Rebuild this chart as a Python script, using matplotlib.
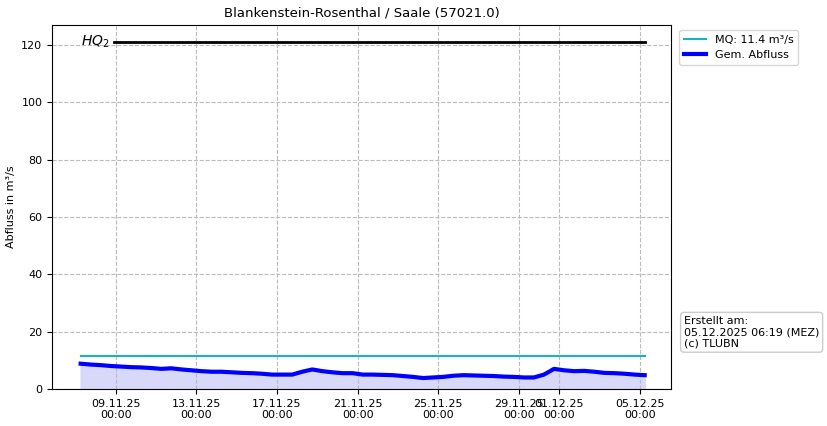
import matplotlib
matplotlib.use("Agg")
import matplotlib.pyplot as plt
import matplotlib.dates as mdates
import numpy as np
import pandas as pd

title = "Blankenstein-Rosenthal / Saale (57021.0)"
start = "2025-11-07 06:00"
flow = [8.8, 8.5, 8.3, 8.0, 7.8, 7.6, 7.5, 7.3, 7.0, 7.2, 6.8, 6.5, 6.2, 6.0,
        6.0, 5.8, 5.6, 5.5, 5.3, 5.0, 5.0, 5.0, 6.0, 6.8, 6.2, 5.8, 5.5, 5.5,
        5.0, 5.0, 4.9, 4.8, 4.5, 4.2, 3.8, 4.0, 4.2, 4.6, 4.8, 4.7, 4.6, 4.5,
        4.3, 4.2, 4.0, 4.0, 5.0, 7.0, 6.5, 6.2, 6.3, 6.0, 5.6, 5.5, 5.3, 5.0, 4.8]
mq = 11.4
hq2 = 121.0
hq2_start = "2025-11-08 22:00"
tick_dates = ["2025-11-09", "2025-11-13", "2025-11-17", "2025-11-21",
              "2025-11-25", "2025-11-29", "2025-12-01", "2025-12-05"]

times = pd.date_range(start, periods=len(flow), freq="12h")

fig = plt.figure(figsize=(8.27, 4.26), dpi=100)
ax = fig.add_axes([0.063, 0.087, 0.748, 0.855])
ax.fill_between(times, flow, color="#d8d8f8", zorder=1)
ax.plot(times, flow, color="blue", lw=3, label="Gem. Abfluss", zorder=3)
ax.plot([times[0], times[-1]], [mq, mq], color="#1ab3c0", lw=1.5, label=f"MQ: {mq} m³/s", zorder=2)
ax.plot([pd.Timestamp(hq2_start), times[-1]], [hq2, hq2], color="black", lw=2, zorder=2)
ax.text(times[0], hq2, r"$HQ_2$", fontsize=10, va="center", ha="left")

ax.set_xlim(pd.Timestamp("2025-11-05 20:00"), pd.Timestamp("2025-12-06 13:00"))
ax.set_ylim(0, 127)
ax.set_xticks([pd.Timestamp(d) for d in tick_dates])
ax.xaxis.set_major_formatter(mdates.DateFormatter("%d.%m.%y\n%H:%M"))
ax.tick_params(labelsize=8)
ax.set_ylabel("Abfluss in m³/s", fontsize=8)
ax.set_title(title, fontsize=9.5)
ax.grid(True, ls="--", color="#bbbbbb", lw=0.8)
h, l = ax.get_legend_handles_labels()
ax.legend([h[1], h[0]], [l[1], l[0]], loc="upper left", bbox_to_anchor=(1.005, 1.0), fontsize=8)
fig.text(0.827, 0.22, "Erstellt am:\n05.12.2025 06:19 (MEZ)\n(c) TLUBN", fontsize=8,
         va="center", ha="left",
         bbox=dict(boxstyle="round,pad=0.3", fc="white", ec="#cccccc"))
fig.savefig("out.png", dpi=100)
